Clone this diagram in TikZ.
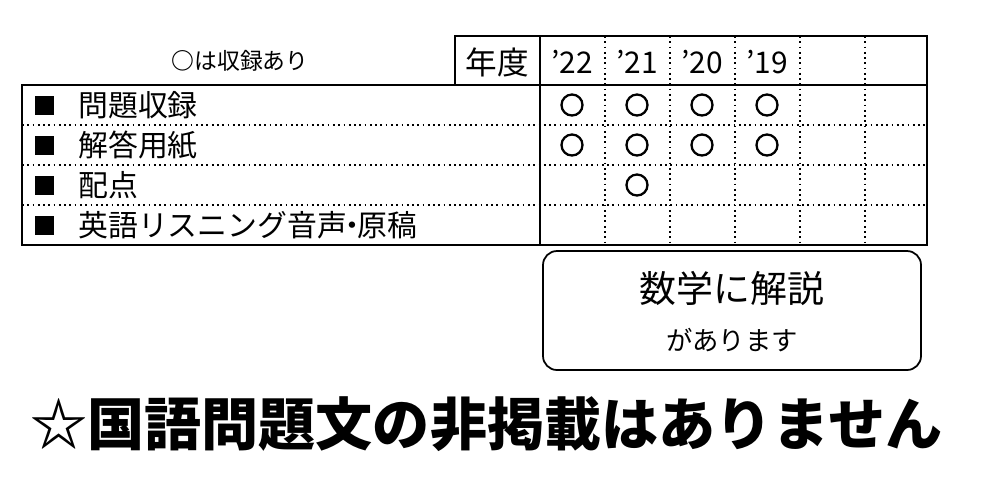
\documentclass[tikz,border=0pt]{standalone}
\usepackage{fontspec}
\setmainfont{Noto Sans CJK JP}
\begin{document}
\begin{tikzpicture}[x=0.02cm,y=-0.02cm,
  thickline/.style={line width=1.4pt},
  dotline/.style={line width=1pt,dotted},
  cellmark/.style={circle,draw,line width=1.3pt,minimum size=21*0.02cm,inner sep=0pt},
  sq/.style={fill=black,minimum size=19*0.02cm,inner sep=0pt},
  lbl/.style={anchor=west,font=\fontsize{17pt}{19pt}\selectfont,inner sep=0pt}]
\useasboundingbox (0,0) rectangle (1000,485);
% header
\node (hdr) at (240,61) {\fontsize{13pt}{15pt}\selectfont {\bfseries ○}は収録あり};
\draw[thickline] (455,36) rectangle (927,85);
\draw[thickline] (540,36) -- (540,85);
\node (nendo) at (497,62) {\fontsize{18pt}{20pt}\selectfont 年度};
\foreach \y/\xx in {22/572,21/637,20/702,19/767}{
  \node (y\y) at (\xx,62) {\fontsize{17pt}{19pt}\selectfont ’\y};}
\foreach \x in {605,670,735,800,865}{\draw[dotline] (\x,36) -- (\x,245);}
% main table
\draw[thickline] (22,85) rectangle (927,245);
\draw[thickline] (540,85) -- (540,245);
\foreach \y in {125,165,205}{\draw[dotline] (22,\y) -- (927,\y);}
\foreach \y/\t [count=\i] in {105/問題収録,145/解答用紙,185/配点,225/{英語リスニング音声\makebox[0.35em]{・}原稿}}{
  \node[sq] (s\i) at (44,\y) {};
  \node[lbl] (t\i) at (78,\y) {\t};}
\foreach \xx in {572,637,702,767}{
  \node[cellmark] at (\xx,105) {};
  \node[cellmark] at (\xx,145) {};}
\node[cellmark] (c3) at (637,185) {};
% rounded box
\draw[line width=1pt,rounded corners=14*0.02cm] (543,251) rectangle (921,370);
\node (m1) at (732,288) {\fontsize{21pt}{23pt}\selectfont 数学に解説};
\node (m2) at (732,340) {\fontsize{15pt}{17pt}\selectfont があります};
% bottom
\node[anchor=west,inner sep=0pt] (bot) at (30,424) {\fontsize{32.5pt}{34pt}\selectfont\bfseries ☆国語問題文の非掲載はありません};
\end{tikzpicture}
\end{document}
